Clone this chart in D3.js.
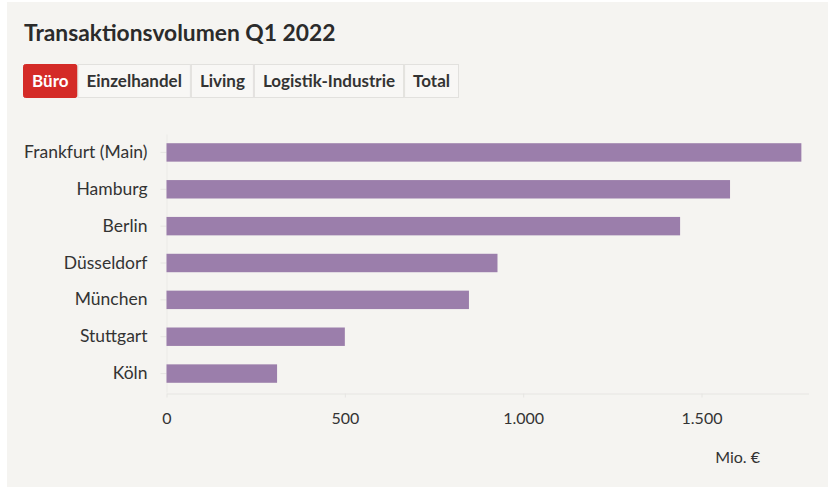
<!DOCTYPE html>
<html>
<head>
<meta charset="utf-8">
<script src="https://cdn.jsdelivr.net/npm/d3@7"></script>
<style>
  html, body { margin: 0; padding: 0; background: #ffffff; }
  svg { display: block; font-family: Lato, "Open Sans", sans-serif; }
</style>
</head>
<body>
<svg id="chart" width="828" height="487"></svg>
<script>
// Transaktionsvolumen Q1 2022, Segment Büro (Mio. €)
const cities = ["Frankfurt (Main)", "Hamburg", "Berlin", "Düsseldorf", "München", "Stuttgart", "Köln"];
const volumes = [1780, 1580, 1440, 928, 848, 500, 310];
const tabs = ["Büro", "Einzelhandel", "Living", "Logistik-Industrie", "Total"];
const activeTab = "Büro";
const xTicks = [0, 500, 1000, 1500];
const title = "Transaktionsvolumen Q1 2022";
const unitLabel = "Mio. €";

const de = d3.formatLocale({ decimal: ",", thousands: ".", grouping: [3], currency: ["", " €"] });
const fmt = de.format(",");

const svg = d3.select("#chart");

// panel background
svg.append("rect").attr("x", 7).attr("y", 2).attr("width", 821).attr("height", 485).attr("fill", "#f5f4f1");

// title
svg.append("text")
  .attr("x", 24).attr("y", 41)
  .attr("font-size", 22.8).attr("font-weight", 700).attr("fill", "#2b2b2b")
  .text(title);

// tab buttons
const tabG = svg.append("g").attr("transform", "translate(23,64)");
let tx = 0;
tabs.forEach(name => {
  const g = tabG.append("g").attr("transform", `translate(${tx},0)`);
  const t = g.append("text")
    .attr("y", 22.5).attr("font-size", 17).attr("font-weight", 700)
    .attr("fill", name === activeTab ? "#ffffff" : "#333333")
    .text(name);
  const w = t.node().getComputedTextLength() + 18;
  t.attr("x", 9);
  g.insert("rect", "text")
    .attr("x", 0.5).attr("y", 0.5).attr("width", w - 1).attr("height", 33)
    .attr("rx", name === activeTab ? 2 : 0)
    .attr("fill", name === activeTab ? "#d42b27" : "#f8f7f5")
    .attr("stroke", name === activeTab ? "#d42b27" : "#e2e1de");
  tx += w;
});

// scales
const x = d3.scaleLinear().domain([0, 1800]).range([166.5, 808.5]);
const y = d3.scaleBand().domain(cities).range([134, 392]).paddingInner(0.5).paddingOuter(0.25);

// x axis
const xAxis = svg.append("g")
  .attr("transform", "translate(0,393.5)")
  .call(d3.axisBottom(x).tickValues(xTicks).tickFormat(fmt).tickSize(4).tickPadding(15).tickSizeOuter(0));
xAxis.select(".domain").attr("stroke", "#e6e5e2");
xAxis.selectAll(".tick line").attr("stroke", "#e6e5e2");
xAxis.selectAll(".tick text").attr("font-size", 16).attr("fill", "#333").attr("font-family", "Lato, sans-serif");

// y axis
const yAxis = svg.append("g")
  .attr("transform", "translate(166.5,0)")
  .call(d3.axisLeft(y).tickSize(6).tickPadding(13).tickSizeOuter(0));
yAxis.select(".domain").attr("stroke", "#ebeae7");
yAxis.selectAll(".tick line").attr("stroke", "#e6e5e2");
yAxis.selectAll(".tick text").attr("font-size", 17.5).attr("fill", "#333").attr("font-family", "Lato, sans-serif");

// bars
svg.append("g").selectAll("rect")
  .data(cities.map((c, i) => ({ city: c, value: volumes[i] })))
  .join("rect")
  .attr("x", x(0))
  .attr("y", d => y(d.city))
  .attr("width", d => x(d.value) - x(0))
  .attr("height", y.bandwidth())
  .attr("fill", "#9b7eab");

// unit label
svg.append("text")
  .attr("x", 760).attr("y", 463)
  .attr("text-anchor", "end")
  .attr("font-size", 16).attr("fill", "#333")
  .text(unitLabel);
</script>
</body>
</html>
